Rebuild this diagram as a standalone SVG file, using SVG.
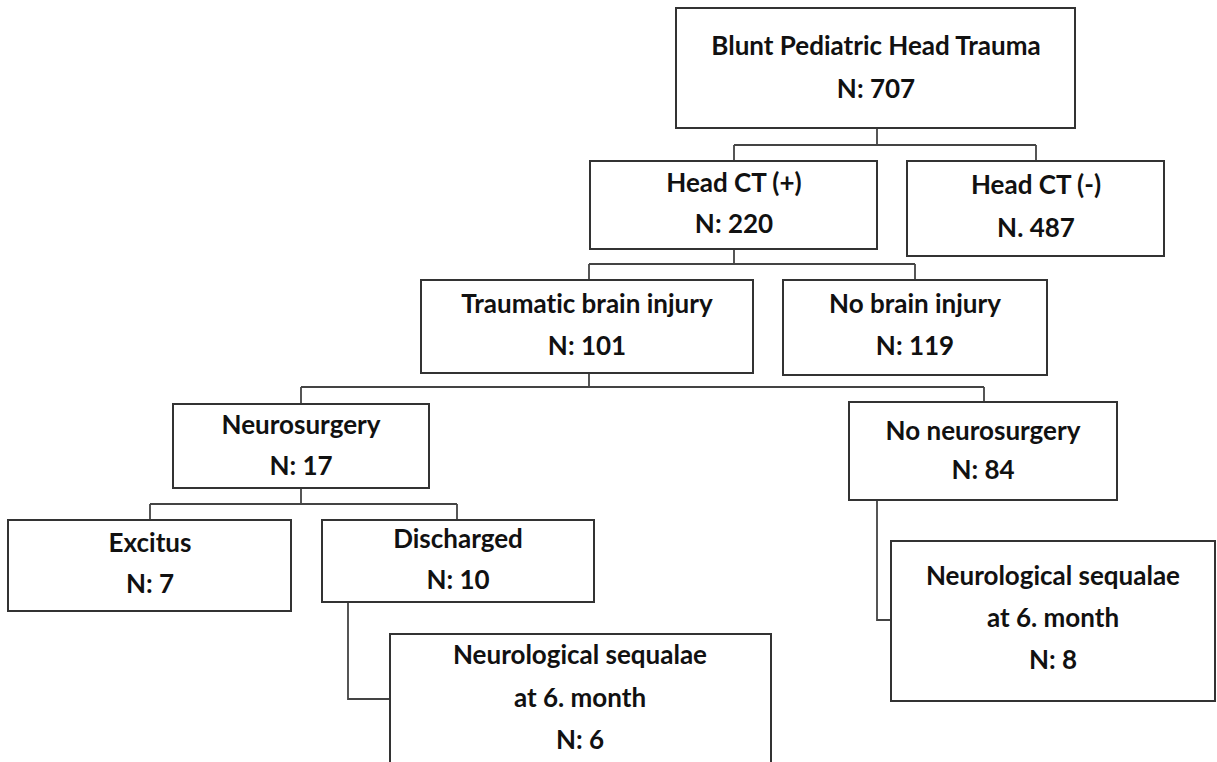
<svg xmlns="http://www.w3.org/2000/svg" width="1217" height="762" viewBox="0 0 1217 762">
<style>
.box{fill:#fff;stroke:#333;stroke-width:2}
.t{font-family:Lato,"Open Sans","Liberation Sans",sans-serif;font-weight:bold;font-size:26px;fill:#111;text-anchor:middle;font-variant-ligatures:none}
.c{fill:none;stroke:#444;stroke-width:1.8}
</style>
<rect width="1217" height="762" fill="#fff"/>
<g id="connectors">
<path class="c" d="M877 128V145M734 145H1036M734 145V161M1036 145V161"/>
<path class="c" d="M734 249V264M589 264H915M589 264V280M915 264V280"/>
<path class="c" d="M589 373V387M301 387H984M301 387V404M984 387V402"/>
<path class="c" d="M301 488V504M150 504H457M150 504V520M457 504V520"/>
<path class="c" d="M348 602V699H390"/>
<path class="c" d="M877 500V620H891"/>
</g>
<g id="n-root"><rect class="box" x="676" y="8" width="399" height="120"/><text class="t" x="876" y="55">Blunt Pediatric Head Trauma</text><text class="t" x="876" y="98">N: 707</text></g>
<g id="n-ctpos"><rect class="box" x="590" y="161" width="287" height="88"/><text class="t" x="734" y="192">Head CT (+)</text><text class="t" x="734" y="233">N: 220</text></g>
<g id="n-ctneg"><rect class="box" x="907" y="161" width="257" height="95"/><text class="t" x="1036" y="194">Head CT (-)</text><text class="t" x="1036" y="237">N. 487</text></g>
<g id="n-tbi"><rect class="box" x="421" y="280" width="332" height="93"/><text class="t" x="587" y="313">Traumatic brain injury</text><text class="t" x="587" y="355">N: 101</text></g>
<g id="n-nobi"><rect class="box" x="783" y="280" width="264" height="95"/><text class="t" x="915" y="313">No brain injury</text><text class="t" x="915" y="355">N: 119</text></g>
<g id="n-ns"><rect class="box" x="173" y="404" width="256" height="84"/><text class="t" x="301" y="434">Neurosurgery</text><text class="t" x="301" y="475">N: 17</text></g>
<g id="n-nons"><rect class="box" x="849" y="402" width="268" height="98"/><text class="t" x="983" y="440">No neurosurgery</text><text class="t" x="983" y="479">N: 84</text></g>
<g id="n-exc"><rect class="box" x="8" y="520" width="283" height="91"/><text class="t" x="150" y="552">Excitus</text><text class="t" x="150" y="593">N: 7</text></g>
<g id="n-dis"><rect class="box" x="322" y="520" width="272" height="82"/><text class="t" x="458" y="548">Discharged</text><text class="t" x="458" y="589">N: 10</text></g>
<g id="n-seq1"><rect class="box" x="390" y="634" width="381" height="140"/><text class="t" x="580" y="664">Neurological sequalae</text><text class="t" x="580" y="707">at 6. month</text><text class="t" x="580" y="749">N: 6</text></g>
<g id="n-seq2"><rect class="box" x="891" y="541" width="324" height="160"/><text class="t" x="1053" y="585">Neurological sequalae</text><text class="t" x="1053" y="627">at 6. month</text><text class="t" x="1053" y="669">N: 8</text></g>
</svg>
